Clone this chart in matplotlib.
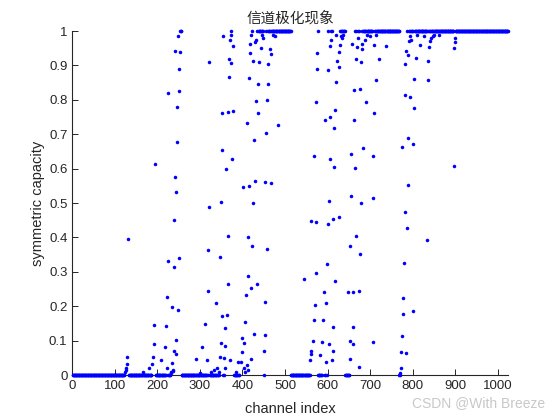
import numpy as np
import matplotlib
matplotlib.use('Agg')
import matplotlib.pyplot as plt

plt.rcParams['font.family'] = ['Liberation Sans', 'DejaVu Sans']

#############################################################################
# channel index
N_CHANNEL = 1024
# runs of channels that sit on 0 or on 1 (start, stop) python-style
zero_runs = [(0, 122), (132, 186), (196, 232), (256, 345), (352, 358), (380, 392),
             (513, 558), (575, 586), (592, 598), (641, 651), (766, 770)]
one_runs = [(253, 256), (370, 372), (420, 424), (434, 513), (576, 577), (600, 612),
            (628, 640), (664, 668), (670, 768), (786, 1024)]
# channels in between (index, capacity)
mid_idx = [123, 125, 126, 127, 128, 129,
           165, 180, 186, 189, 191, 192, 194,
           208, 217, 220, 221, 222, 223, 225, 230, 231, 233, 234, 235, 236, 237,
           238, 239, 240, 241, 242, 243, 244, 245, 246, 247, 248, 249, 250, 251, 252,
           289, 300, 305, 312, 316, 317, 319, 320, 321, 326, 333, 336, 340, 343,
           346, 347, 348, 349, 350, 351, 352, 354, 355, 357, 358, 359, 361, 362,
           364, 365, 366, 367, 368, 369, 370, 372, 373, 374, 376, 378, 384, 389,
           395, 398, 399, 401, 402, 403, 405, 406, 408, 409, 410, 411, 412, 413,
           414, 415, 416, 417, 418, 419, 420, 422, 423, 424, 426, 427, 428, 429,
           430, 432, 433, 435, 436, 437, 442, 444, 447, 449, 450, 451, 452, 453,
           455, 456, 457, 458, 460, 464, 466, 467, 470, 475, 482,
           544, 558, 559, 560, 561, 566, 567, 568, 569, 571, 572, 573, 574, 575,
           582, 587, 589, 591, 593, 595, 596, 598, 599, 601, 602, 603, 604, 605,
           606, 608, 610, 611, 612, 613, 614, 615, 616, 617, 618, 619, 621, 625,
           626, 627, 629, 630, 632, 636,
           648, 651, 652, 653, 654, 655, 656, 658, 659, 660, 661, 662, 663, 666,
           667, 668, 670, 672, 674, 675, 676, 677, 678, 679, 681, 682, 686, 689,
           692, 700,
           705, 706, 707, 708, 709, 712, 713, 720, 737,
           770, 771, 772, 773, 775, 776, 777, 779, 780, 781, 782, 783, 784, 785,
           787, 788, 789, 790, 792, 794, 796, 800, 801, 802, 803, 807, 810, 817,
           826, 833, 835, 836, 837, 839, 842, 848, 850, 860,
           896, 897, 898, 899]
mid_cap = [0.010, 0.015, 0.020, 0.032, 0.053, 0.395,
           0.010, 0.020, 0.031, 0.053, 0.090, 0.145, 0.613,
           0.045, 0.083, 0.143, 0.020, 0.228, 0.331, 0.819, 0.010, 0.005, 0.197, 0.034, 0.012, 0.015, 0.315,
           0.069, 0.452, 0.577, 0.943, 0.060, 0.102, 0.531, 0.678, 0.780, 0.189, 0.985, 0.341, 0.826, 0.891, 0.938,
           0.046, 0.005, 0.083, 0.147, 0.045, 0.244, 0.365, 0.488, 0.911, 0.010, 0.015, 0.209, 0.020, 0.010,
           0.344, 0.053, 0.092, 0.504, 0.172, 0.654, 0.762, 0.985, 0.049, 0.020, 0.085, 0.137, 0.599, 0.176,
           0.264, 0.764, 0.404, 0.867, 0.920, 0.045, 0.975, 0.990, 0.906, 0.629, 0.957, 0.767, 0.010, 0.037,
           0.037, 0.066, 0.108, 0.546, 0.092, 0.020, 0.010, 0.154, 0.234, 0.734, 0.030, 0.015, 0.288, 0.401,
           0.551, 0.865, 0.935, 0.962, 0.990, 0.046, 0.253, 0.376, 0.500, 0.914, 0.118, 0.683, 0.969, 0.564,
           0.796, 0.975, 0.264, 0.763, 0.845, 0.909, 0.950, 0.990, 0.980, 0.000, 0.071, 0.116, 0.561, 0.211,
           0.705, 0.801, 0.367, 0.845, 0.904, 0.947, 0.557, 0.933, 0.990, 0.985, 0.726,
           0.279, 0.043, 0.070, 0.448, 0.061, 0.100, 0.161, 0.637, 0.203, 0.298, 0.795, 0.444, 0.889, 0.935,
           0.058, 0.096, 0.160, 0.242, 0.741, 0.210, 0.038, 0.322, 0.440, 0.887, 0.505, 0.091, 0.629, 0.957,
           0.751, 0.975, 0.045, 0.071, 0.453, 0.140, 0.605, 0.717, 0.272, 0.770, 0.990, 0.851, 0.912, 0.459,
           0.896, 0.938, 0.960, 0.985, 0.980, 0.990,
           0.241, 0.046, 0.376, 0.100, 0.521, 0.643, 0.962, 0.089, 0.139, 0.242, 0.741, 0.828, 0.601, 0.405,
           0.919, 0.954, 0.980, 0.022, 0.244, 0.351, 0.833, 0.911, 0.500, 0.948, 0.962, 0.661, 0.975, 0.795,
           0.990, 0.985,
           0.095, 0.516, 0.638, 0.761, 0.960, 0.990, 0.858, 0.920, 0.958,
           0.005, 0.020, 0.067, 0.114, 0.664, 0.178, 0.225, 0.325, 0.814, 0.473, 0.903, 0.942, 0.063, 0.427,
           0.552, 0.690, 0.930, 0.971, 0.807, 0.985, 0.975, 0.186, 0.673, 0.775, 0.862, 0.923, 0.990, 0.960,
           0.985, 0.392, 0.858, 0.914, 0.953, 0.970, 0.980, 0.985, 0.990, 0.990,
           0.607, 0.951, 0.967, 0.980]

#############################################################################
cap = np.full(N_CHANNEL, np.nan)
for a, b in zero_runs:
    cap[a:b] = 0.0
for a, b in one_runs:
    cap[a:b] = 1.0
cap[np.array(mid_idx)] = mid_cap
idx = np.arange(1, N_CHANNEL + 1)
ok = ~np.isnan(cap)

fig = plt.figure(figsize=(5.6, 4.2), dpi=100)
ax = fig.add_axes([0.129, 0.107, 0.778, 0.819])
ax.scatter(idx[ok], cap[ok], s=6.5, c='#0000ff', marker='o', linewidths=0, zorder=3,
           clip_on=False)
ax.set_xlim(0, N_CHANNEL)
ax.set_ylim(0, 1)
ax.set_xticks(np.arange(0, 1001, 100))
ax.set_yticks(np.arange(0, 1.01, 0.1))
ax.set_yticklabels(['0'] + [f'{v:.1f}' for v in np.arange(0.1, 0.95, 0.1)] + ['1'])
for s in ('top', 'right'):
    ax.spines[s].set_visible(False)
for s in ('left', 'bottom'):
    ax.spines[s].set_color('#262626')
    ax.spines[s].set_linewidth(0.8)
ax.tick_params(direction='in', length=4, width=0.7, colors='#262626', labelsize=9.5)
ax.set_xlabel('channel index', fontsize=10.5, color='#262626', labelpad=7)
ax.set_ylabel('symmetric capacity', fontsize=10.5, color='#262626', labelpad=3)
ax.set_title('信道极化现象', fontsize=10.5, pad=6, color='#262626',
             family=['Noto Sans CJK SC', 'DejaVu Sans'])
fig.text(0.973, 0.04, 'CSDN @With Breeze', ha='right', va='center', fontsize=10,
         color='#c8c8c8')
fig.savefig('out.png', dpi=100)
